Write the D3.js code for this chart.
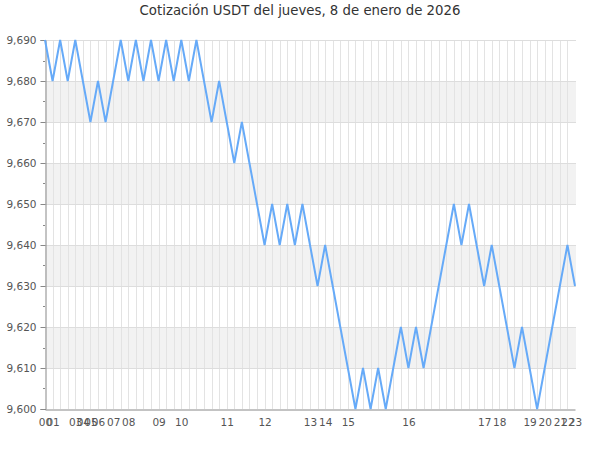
<!DOCTYPE html>
<html>
<head>
<meta charset="utf-8">
<script src="https://cdn.jsdelivr.net/npm/d3@7"></script>
<style>
  html, body { margin: 0; padding: 0; background: #fff; }
  svg { display: block; font-family: "DejaVu Sans", sans-serif; }
</style>
</head>
<body>
<svg id="chart" width="600" height="450"></svg>
<script>
const title = "Cotización USDT del jueves, 8 de enero de 2026";
const values = [
  9.690, 9.680, 9.690, 9.680, 9.690, 9.680, 9.670, 9.680, 9.670, 9.680,
  9.690, 9.680, 9.690, 9.680, 9.690, 9.680, 9.690, 9.680, 9.690, 9.680,
  9.690, 9.680, 9.670, 9.680, 9.670, 9.660, 9.670, 9.660, 9.650, 9.640,
  9.650, 9.640, 9.650, 9.640, 9.650, 9.640, 9.630, 9.640, 9.630, 9.620,
  9.610, 9.600, 9.610, 9.600, 9.610, 9.600, 9.610, 9.620, 9.610, 9.620,
  9.610, 9.620, 9.630, 9.640, 9.650, 9.640, 9.650, 9.640, 9.630, 9.640,
  9.630, 9.620, 9.610, 9.620, 9.610, 9.600, 9.610, 9.620, 9.630, 9.640,
  9.630
];
const hourLabels = ["00","01","03","04","05","06","07","08","09","10","11","12","13","14","15","16","17","18","19","20","21","22","23"];
const hourIndex  = [0, 1, 4, 5, 6, 7, 9, 11, 15, 18, 24, 29, 35, 37, 40, 48, 58, 60, 64, 66, 68, 69, 70];
const yTicks = [9.600, 9.610, 9.620, 9.630, 9.640, 9.650, 9.660, 9.670, 9.680, 9.690];

(function () {
const svg = d3.select("#chart");
const mLeft = 45, mRight = 575, mTop = 40, mBottom = 409;

const x = d3.scalePoint().domain(d3.range(values.length)).range([mLeft, mRight]);
const y = d3.scaleLinear().domain([9.600, 9.690]).range([mBottom, mTop]);

// alternating bands
for (let k = 0; k < yTicks.length - 1; k++) {
  if (k % 2 === 1) {
    svg.append("rect")
      .attr("x", mLeft).attr("width", mRight - mLeft + 1)
      .attr("y", y(yTicks[k + 1])).attr("height", y(yTicks[k]) - y(yTicks[k + 1]))
      .attr("fill", "#f2f2f2");
  }
}

// vertical grid
svg.append("g").selectAll("line").data(d3.range(1, values.length - 1)).join("line")
  .attr("x1", d => Math.round(x(d)) + 0.5).attr("x2", d => Math.round(x(d)) + 0.5)
  .attr("y1", mTop).attr("y2", mBottom)
  .attr("stroke", "#e3e3e3").attr("stroke-width", 1);

// horizontal grid
svg.append("g").selectAll("line").data(yTicks.slice(1)).join("line")
  .attr("x1", mLeft).attr("x2", mRight + 1)
  .attr("y1", d => Math.round(y(d)) + 0.5).attr("y2", d => Math.round(y(d)) + 0.5)
  .attr("stroke", "#dddddd").attr("stroke-width", 1);

// y axis
const yAxis = d3.axisLeft(y).tickValues(yTicks).tickSize(5).tickPadding(4)
  .tickFormat(d => d3.format(".3f")(d).replace(".", ","));
const gy = svg.append("g").attr("transform", `translate(${mLeft + 0.5},0)`).call(yAxis);
gy.select(".domain").attr("stroke", "#888");
gy.selectAll(".tick line").attr("stroke", "#888");
gy.selectAll(".tick text").attr("fill", "#555").style("font-size", "10.5px").style("font-family", "DejaVu Sans");

// minor y ticks
const minor = d3.range(yTicks.length - 1).map(k => (yTicks[k] + yTicks[k + 1]) / 2);
svg.append("g").selectAll("line").data(minor).join("line")
  .attr("x1", mLeft - 2).attr("x2", mLeft)
  .attr("y1", d => Math.round(y(d)) + 0.5).attr("y2", d => Math.round(y(d)) + 0.5)
  .attr("stroke", "#888");

// x axis
const xAxis = d3.axisBottom(x).tickValues(hourIndex).tickSize(0).tickPadding(9)
  .tickFormat((d, i) => hourLabels[i]);
const gx = svg.append("g").attr("transform", `translate(0,${mBottom + 0.5})`).call(xAxis);
gx.select(".domain").attr("stroke", "#888");
gx.selectAll(".tick text").attr("fill", "#555").style("font-size", "10.5px").style("font-family", "DejaVu Sans");

// line
const line = d3.line().x((d, i) => x(i)).y(d => y(d));
svg.append("path").datum(values)
  .attr("d", line)
  .attr("fill", "none")
  .attr("stroke", "#66aaf8")
  .attr("stroke-width", 2)
  .attr("stroke-linejoin", "miter");

// title
svg.append("text")
  .attr("x", 300).attr("y", 15)
  .attr("text-anchor", "middle")
  .attr("fill", "#333")
  .style("font-size", "13.3px")
  .text(title);
})();
</script>
</body>
</html>
